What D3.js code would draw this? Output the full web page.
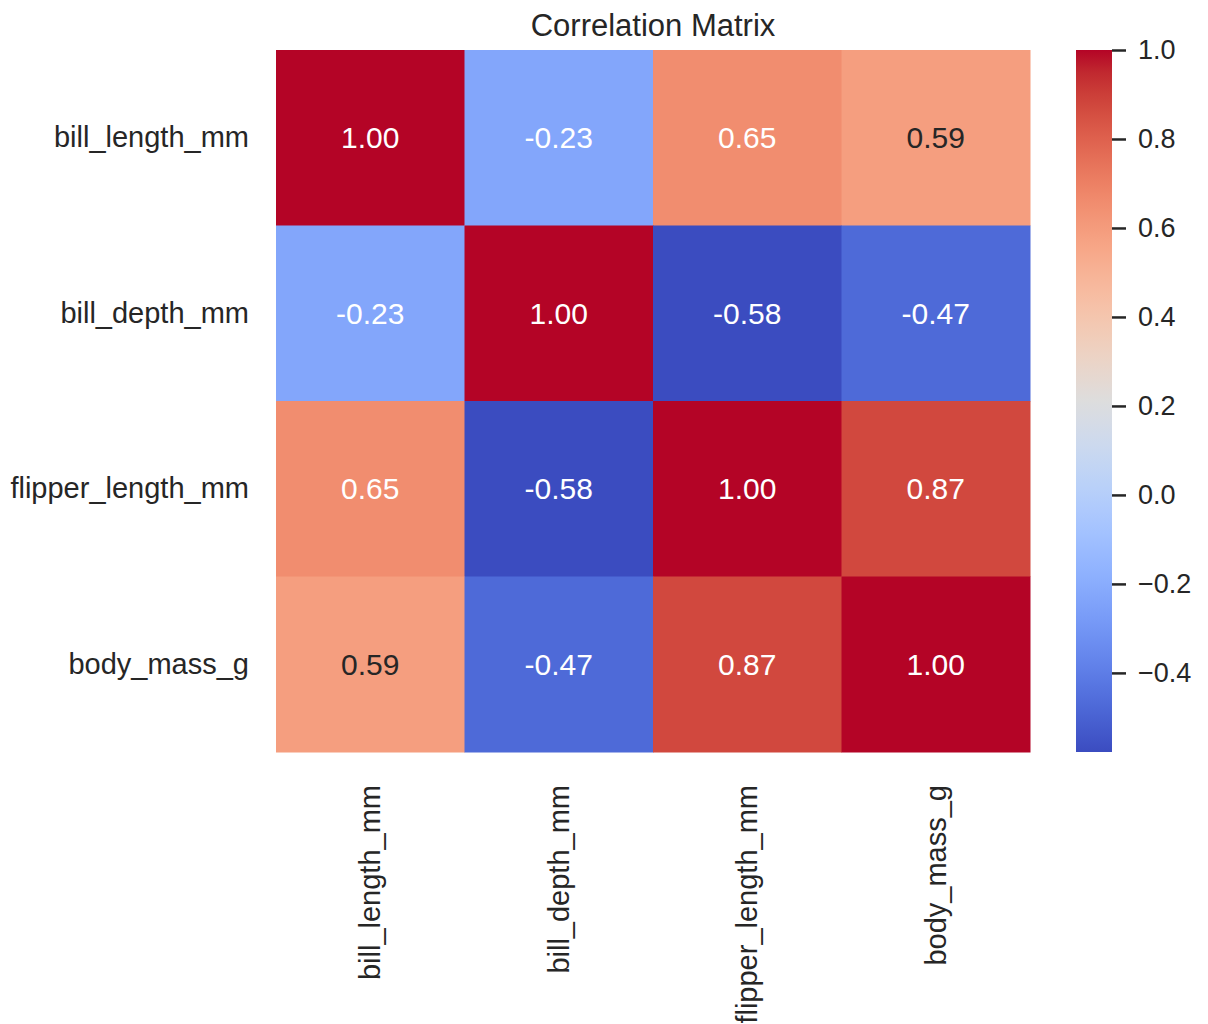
<!DOCTYPE html>
<html>
<head>
<meta charset="utf-8">
<script src="https://cdn.jsdelivr.net/npm/d3@7"></script>
<style>
  body { margin: 0; background: #fff; }
  svg text { font-family: "Liberation Sans", Arial, sans-serif; fill: #262626; }
</style>
</head>
<body>
<svg id="chart" width="1208" height="1024"></svg>
<script>
const variables = ["bill_length_mm", "bill_depth_mm", "flipper_length_mm", "body_mass_g"];
const corrValues = [
  [1.0, -0.2286, 0.6530, 0.5894],
  [-0.2286, 1.0, -0.5778, -0.4720],
  [0.6530, -0.5778, 1.0, 0.8730],
  [0.5894, -0.4720, 0.8730, 1.0]
];
const colorbarTicks = [-0.4, -0.2, 0.0, 0.2, 0.4, 0.6, 0.8, 1.0];
// coolwarm samples (Moreland), evenly spaced 0..1
const coolwarm = [
  [59,76,192],[68,90,204],[77,104,215],[87,117,225],[98,130,234],[108,142,241],
  [119,154,247],[130,165,251],[141,176,254],[152,185,255],[163,194,255],[174,201,253],
  [184,208,249],[194,213,244],[204,217,238],[213,219,230],[221,221,221],[229,216,209],
  [236,211,197],[241,204,184],[245,196,172],[247,187,160],[247,177,148],[247,166,135],
  [244,154,123],[241,141,111],[236,127,99],[229,112,88],[222,96,77],[213,80,66],
  [203,62,56],[192,40,47],[180,4,38]
];

const svg = d3.select("#chart");
const mLeft = 276, mTop = 50, mRight = 1030, mBottom = 752;

const vmin = d3.min(corrValues.flat()), vmax = d3.max(corrValues.flat());
const color = d3.scaleLinear()
  .domain(coolwarm.map((c, i) => vmin + (vmax - vmin) * i / (coolwarm.length - 1)))
  .range(coolwarm.map(c => `rgb(${c[0]},${c[1]},${c[2]})`))
  .interpolate(d3.interpolateRgb)
  .clamp(true);

const x = d3.scaleBand().domain(variables).range([mLeft, mRight]);
const y = d3.scaleBand().domain(variables).range([mTop, mBottom]);

const cells = [];
corrValues.forEach((row, i) => row.forEach((v, j) => cells.push({ r: variables[i], c: variables[j], v })));

function luminance(col) {
  const c = d3.rgb(col);
  const f = u => { u /= 255; return u <= 0.03928 ? u / 12.92 : Math.pow((u + 0.055) / 1.055, 2.4); };
  return 0.2126 * f(c.r) + 0.7152 * f(c.g) + 0.0722 * f(c.b);
}

svg.append("g").selectAll("rect")
  .data(cells)
  .join("rect")
  .attr("x", d => x(d.c))
  .attr("y", d => y(d.r))
  .attr("width", x.bandwidth() + 0.5)
  .attr("height", y.bandwidth() + 0.5)
  .attr("fill", d => color(d.v));

svg.append("g").selectAll("text")
  .data(cells)
  .join("text")
  .attr("x", d => x(d.c) + x.bandwidth() / 2)
  .attr("y", d => y(d.r) + y.bandwidth() / 2)
  .attr("text-anchor", "middle")
  .attr("dominant-baseline", "central")
  .style("font-size", "30px")
  .style("fill", d => luminance(color(d.v)) > 0.408 ? "#262626" : "#ffffff")
  .text(d => d3.format(".2f")(d.v).replace("−", "-"));

// y labels
const yAxis = svg.append("g")
  .attr("transform", `translate(${mLeft},0)`)
  .call(d3.axisLeft(y).tickSize(0).tickPadding(27));
yAxis.select(".domain").remove();
yAxis.selectAll("text").style("font-size", "29px").attr("fill", "#262626");

// x labels
const xAxis = svg.append("g")
  .attr("transform", `translate(0,${mBottom})`)
  .call(d3.axisBottom(x).tickSize(0).tickPadding(0));
xAxis.select(".domain").remove();
xAxis.selectAll("text")
  .style("font-size", "29px")
  .attr("fill", "#262626")
  .attr("transform", "rotate(-90)")
  .attr("text-anchor", "end")
  .attr("dy", "0.35em")
  .attr("x", -33)
  .attr("y", 0);

// title
svg.append("text")
  .attr("x", (mLeft + mRight) / 2)
  .attr("y", 36)
  .attr("text-anchor", "middle")
  .style("font-size", "31px")
  .text("Correlation Matrix");

// colorbar
const cbX = 1076, cbW = 36;
const cbScale = d3.scaleLinear().domain([vmin, vmax]).range([mBottom, mTop]);
const defs = svg.append("defs");
const grad = defs.append("linearGradient")
  .attr("id", "cbgrad")
  .attr("x1", 0).attr("y1", 1).attr("x2", 0).attr("y2", 0);
grad.selectAll("stop")
  .data(color.domain())
  .join("stop")
  .attr("offset", d => (d - vmin) / (vmax - vmin))
  .attr("stop-color", d => color(d));
svg.append("rect")
  .attr("x", cbX).attr("y", mTop)
  .attr("width", cbW).attr("height", mBottom - mTop)
  .attr("fill", "url(#cbgrad)");

const cbAxis = svg.append("g")
  .attr("transform", `translate(${cbX + cbW},0)`)
  .call(d3.axisRight(cbScale).tickValues(colorbarTicks).tickSize(14).tickPadding(12)
    .tickFormat(d => d3.format(".1f")(d)));
cbAxis.select(".domain").remove();
cbAxis.selectAll("line").attr("stroke", "#262626").attr("stroke-width", 2.5);
cbAxis.selectAll("text").style("font-size", "27px").attr("fill", "#262626");
</script>
</body>
</html>
